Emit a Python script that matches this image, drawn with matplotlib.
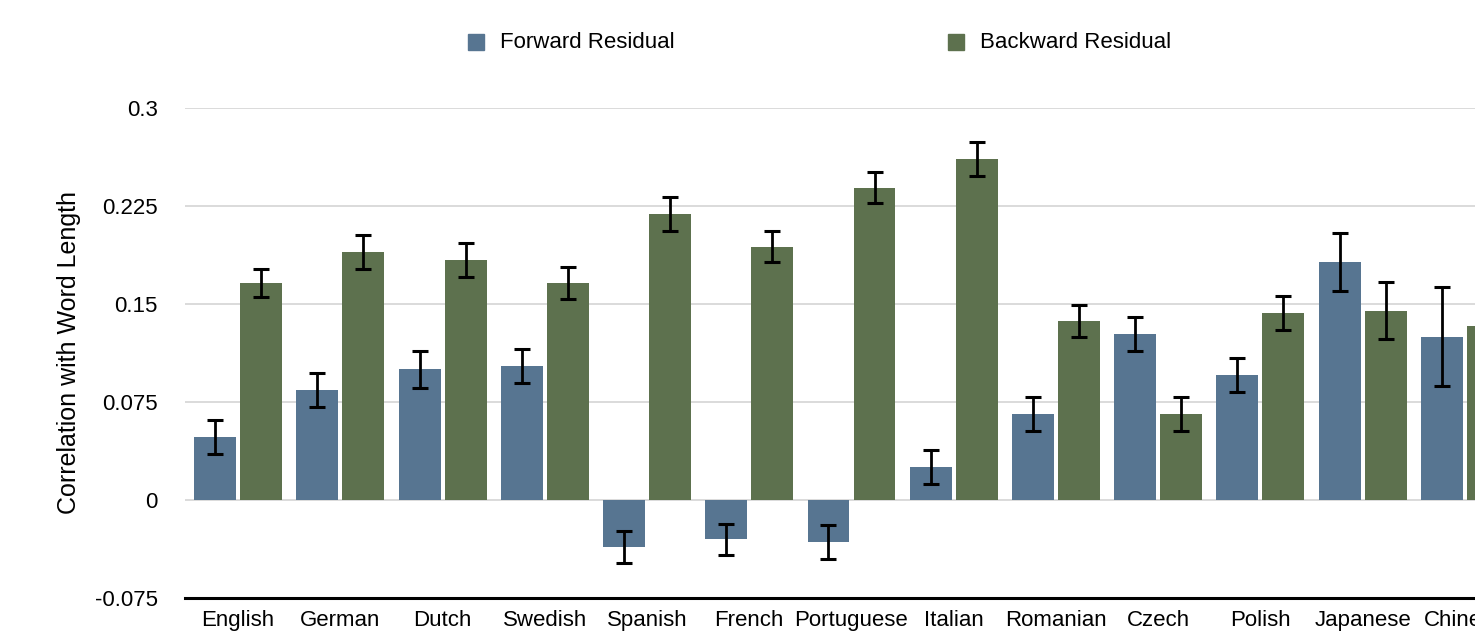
import matplotlib
matplotlib.use("Agg")
import matplotlib.pyplot as plt
from matplotlib.patches import Rectangle
import numpy as np

plt.rcParams['font.family'] = ['Liberation Sans', 'DejaVu Sans']

languages = ["English", "German", "Dutch", "Swedish", "Spanish", "French",
             "Portuguese", "Italian", "Romanian", "Czech", "Polish",
             "Japanese", "Chinese"]
series_names = ["Forward Residual", "Backward Residual"]

forward = [0.048, 0.084, 0.100, 0.1025, -0.036, -0.030, -0.032, 0.025,
           0.066, 0.127, 0.096, 0.182, 0.125]
forward_err = [0.013, 0.013, 0.014, 0.013, 0.012, 0.012, 0.013, 0.013,
               0.013, 0.013, 0.013, 0.022, 0.038]
backward = [0.166, 0.190, 0.184, 0.166, 0.219, 0.194, 0.239, 0.261,
            0.137, 0.066, 0.143, 0.145, 0.133]
backward_err = [0.011, 0.013, 0.013, 0.012, 0.013, 0.012, 0.012, 0.013,
                0.012, 0.013, 0.013, 0.022, 0.020]

yticks = [-0.075, 0, 0.075, 0.15, 0.225, 0.3]
ytick_labels = ["-0.075", "0", "0.075", "0.15", "0.225", "0.3"]

colors = ["#577591", "#5d714e"]

W, H = 1475, 634
fig = plt.figure(figsize=(W / 100, H / 100), dpi=100)

left_px, right_px = 185, 1518
bottom_px, top_px = 598, 108
ax = fig.add_axes([left_px / W, (H - bottom_px) / H,
                   (right_px - left_px) / W, (bottom_px - top_px) / H])

x = np.arange(len(languages))
bw = 0.41
offset = 0.225
ax.bar(x - offset, forward, width=bw, color=colors[0], zorder=2)
ax.bar(x + offset, backward, width=bw, color=colors[1], zorder=2)
err_style = dict(fmt="none", ecolor="black", elinewidth=2.0, capsize=6,
                 capthick=2.2, zorder=3)
ax.errorbar(x - offset, forward, yerr=forward_err, **err_style)
ax.errorbar(x + offset, backward, yerr=backward_err, **err_style)

for s in ["left", "right", "top"]:
    ax.spines[s].set_visible(False)
ax.spines["bottom"].set_linewidth(2.2)
ax.spines["bottom"].set_color("black")

ax.set_xlim(-0.52, 12.52)
ax.set_ylim(-0.075, 0.3)
ax.set_yticks(yticks)
ax.set_yticklabels(ytick_labels, fontsize=16)
ax.set_xticks(x)
ax.set_xticklabels(languages, fontsize=16)
for lab in ax.get_xticklabels():
    lab.set_verticalalignment("baseline")
ax.tick_params(axis="y", length=0, pad=19.5)
ax.tick_params(axis="x", length=0, pad=20.5)
ax.yaxis.grid(True, color="#d4d4d4", linewidth=1.2, zorder=0)
ax.set_axisbelow(True)
ax.set_ylabel("Correlation with Word Length", fontsize=18, labelpad=10)

# legend drawn along the top of the figure
legend_x = [468, 948]
for name, col, lx in zip(series_names, colors, legend_x):
    fig.patches.append(Rectangle((lx / W, (H - 50) / H), 16 / W, 16 / H,
                                 transform=fig.transFigure, color=col))
    fig.text((lx + 32) / W, (H - 42) / H, name, fontsize=16,
             va="center", ha="left")

fig.savefig("out.png", dpi=100)
